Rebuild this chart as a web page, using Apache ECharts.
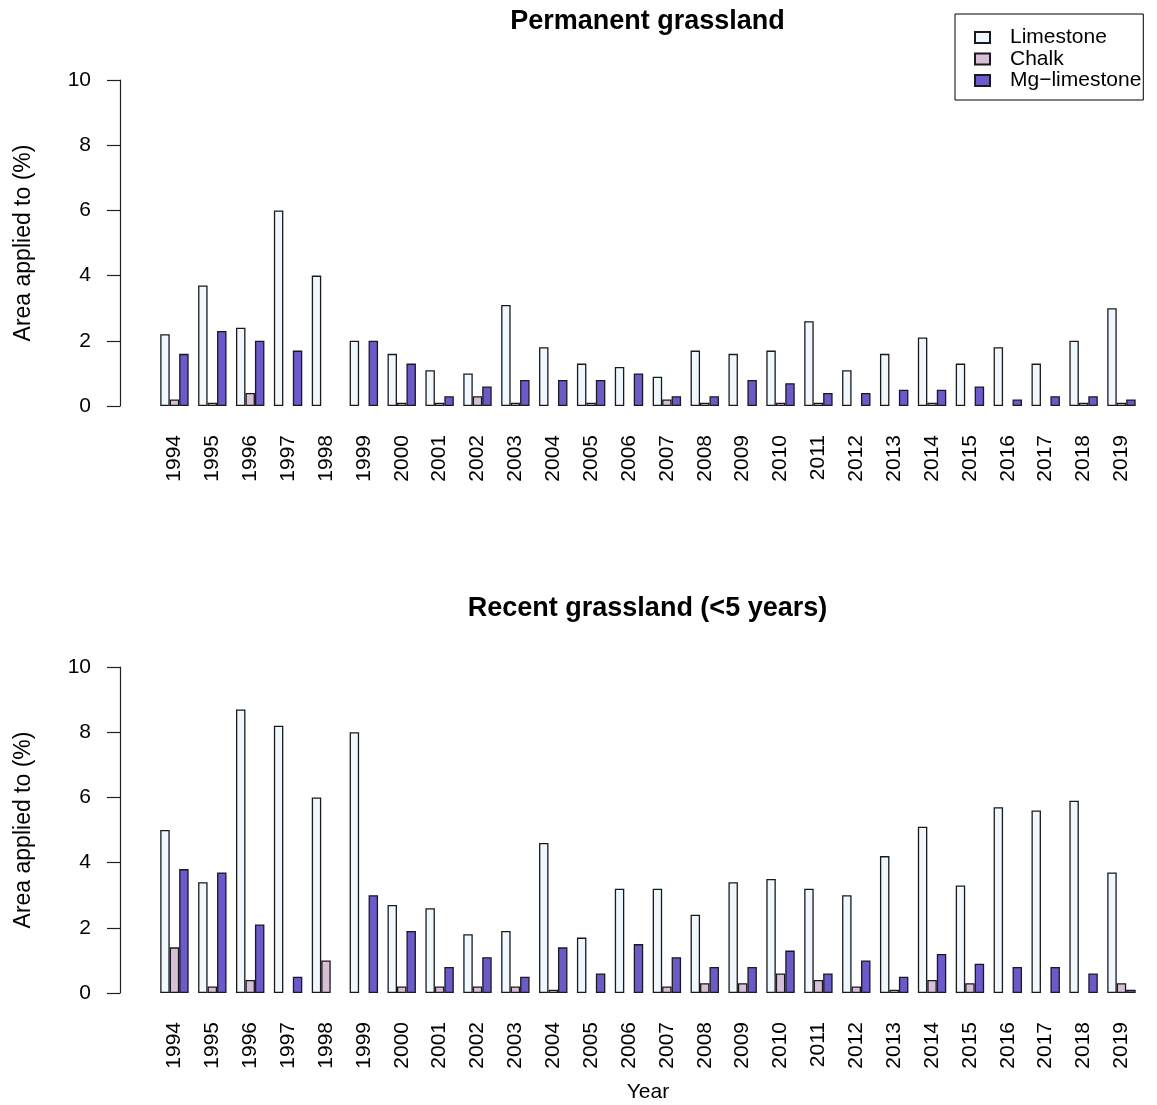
<!DOCTYPE html>
<html>
<head>
<meta charset="utf-8">
<script src="https://cdn.jsdelivr.net/npm/echarts@6/dist/echarts.min.js"></script>
<style>
html,body{margin:0;padding:0;background:#fff;}
#chart{width:1157px;height:1105px;}
</style>
</head>
<body>
<div id="chart"></div>
<script>
const years = ['1994','1995','1996','1997','1998','1999','2000','2001','2002','2003','2004','2005','2006','2007','2008','2009','2010','2011','2012','2013','2014','2015','2016','2017','2018','2019'];
const seriesNames = ['Limestone','Chalk','Mg\u2212limestone'];
const yTicks = [0, 2, 4, 6, 8, 10];

// Permanent grassland
const permLimestone = [2.2,3.7,2.4,6.0,4.0,2.0,1.6,1.1,1.0,3.1,1.8,1.3,1.2,0.9,1.7,1.6,1.7,2.6,1.1,1.6,2.1,1.3,1.8,1.3,2.0,3.0];
const permChalk     = [0.2,0.1,0.4,0,0,0,0.1,0.1,0.3,0.1,0,0.1,0,0.2,0.1,0,0.1,0.1,0,0,0.1,0,0,0,0.1,0.1];
const permMg        = [1.6,2.3,2.0,1.7,0,2.0,1.3,0.3,0.6,0.8,0.8,0.8,1.0,0.3,0.3,0.8,0.7,0.4,0.4,0.5,0.5,0.6,0.2,0.3,0.3,0.2];

// Recent grassland (<5 years)
const recLimestone = [5.0,3.4,8.7,8.2,6.0,8.0,2.7,2.6,1.8,1.9,4.6,1.7,3.2,3.2,2.4,3.4,3.5,3.2,3.0,4.2,5.1,3.3,5.7,5.6,5.9,3.7];
const recChalk     = [1.4,0.2,0.4,0,1.0,0,0.2,0.2,0.2,0.2,0.1,0,0,0.2,0.3,0.3,0.6,0.4,0.2,0.1,0.4,0.3,0,0,0,0.3];
const recMg        = [3.8,3.7,2.1,0.5,0,3.0,1.9,0.8,1.1,0.5,1.4,0.6,1.5,1.1,0.8,0.8,1.3,0.6,1.0,0.5,1.2,0.9,0.8,0.8,0.6,0.1];

const colors = ['#F0F8FF','#D8BFD8','#6A5ACD'];
const FONT = "'Liberation Sans', Arial, Helvetica, sans-serif";

const chart = echarts.init(document.getElementById('chart'), null, {renderer:'canvas'});

function yAxisDef(idx){
  return {
    type:'value', gridIndex: idx, min: yTicks[0], max: yTicks[yTicks.length-1], interval: 2,
    offset: 35.5,
    name: 'Area applied to (%)', nameLocation:'middle', nameGap: 85, nameRotate: 90,
    nameTextStyle:{fontFamily:FONT, fontSize:23, color:'#000'},
    axisLine:{show:true, lineStyle:{color:'#222', width:1.2}},
    axisTick:{show:true, length:13, lineStyle:{color:'#222', width:1.2}},
    axisLabel:{fontFamily:FONT, fontSize:21, color:'#000', margin:29},
    splitLine:{show:false}
  };
}
function xAxisDef(idx, withName){
  const a = {
    type:'category', gridIndex: idx, data: years,
    axisLine:{show:false}, axisTick:{show:false},
    axisLabel:{rotate:90, interval:0, fontFamily:FONT, fontSize:21, color:'#000', margin:29}
  };
  if (withName){
    a.name = 'Year'; a.nameLocation = 'middle'; a.nameGap = 89;
    a.nameTextStyle = {fontFamily:FONT, fontSize:21, color:'#000'};
  }
  return a;
}
function barSeries(name, values, i, idx){
  return {
    type:'bar', name: name, xAxisIndex: idx, yAxisIndex: idx,
    data: values.map(v => v === 0 ? {value: v, itemStyle:{borderWidth:0}} : v),
    barGap:'0%', barCategoryGap:'25%',
    itemStyle:{color: colors[i], borderColor:'#1a1a1a', borderWidth:1.3},
    emphasis:{disabled:true}
  };
}

const option = {
  animation:false,
  backgroundColor:'#fff',
  textStyle:{fontFamily:FONT},
  title:[
    {text:'Permanent grassland', left:647.5, top:8, textAlign:'center', padding:0,
     textStyle:{fontFamily:FONT, fontSize:27, fontWeight:'bold', color:'#000'}},
    {text:'Recent grassland (<5 years)', left:647.5, top:595, textAlign:'center', padding:0,
     textStyle:{fontFamily:FONT, fontSize:27, fontWeight:'bold', color:'#000'}}
  ],
  legend:{
    data: seriesNames, orient:'vertical', left:955, top:14,
    padding:[13,2,9,19], itemWidth:15, itemHeight:11, itemGap:0.5,
    icon:'rect', selectedMode:false,
    borderColor:'#000', borderWidth:1,
    textStyle:{fontFamily:FONT, fontSize:21, lineHeight:21, color:'#000', padding:[0,0,0,15]}
  },
  grid:[
    {left:155.5, right:16.6, top:80, height:326},
    {left:155.5, right:16.6, top:667, height:326}
  ],
  xAxis:[xAxisDef(0,false), xAxisDef(1,true)],
  yAxis:[yAxisDef(0), yAxisDef(1)],
  series:[
    barSeries(seriesNames[0], permLimestone, 0, 0),
    barSeries(seriesNames[1], permChalk, 1, 0),
    barSeries(seriesNames[2], permMg, 2, 0),
    barSeries(seriesNames[0], recLimestone, 0, 1),
    barSeries(seriesNames[1], recChalk, 1, 1),
    barSeries(seriesNames[2], recMg, 2, 1)
  ]
};
chart.setOption(option);
</script>
</body>
</html>
